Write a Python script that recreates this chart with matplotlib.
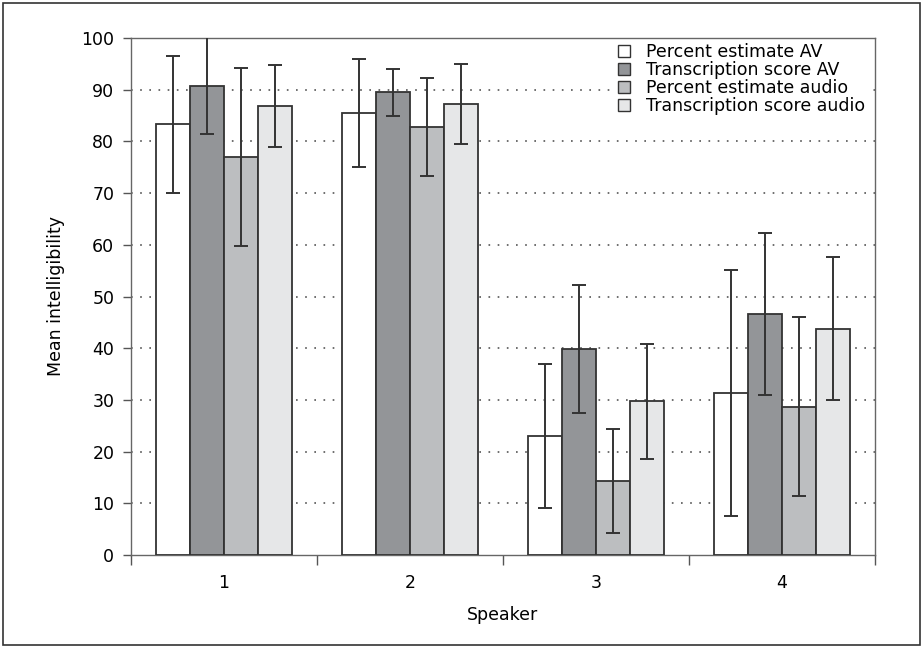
import matplotlib
matplotlib.use("Agg")
import matplotlib.pyplot as plt
from matplotlib.patches import Rectangle
from matplotlib.ticker import FixedLocator, NullFormatter
import numpy as np

speakers = ["1", "2", "3", "4"]
series_names = ["Percent estimate AV", "Transcription score AV",
                "Percent estimate audio", "Transcription score audio"]
pe_av = [83.3, 85.5, 23.0, 31.3]
ts_av = [90.8, 89.5, 39.9, 46.6]
pe_audio = [77.0, 82.8, 14.3, 28.7]
ts_audio = [86.9, 87.2, 29.7, 43.8]
err_pe_av = [13.2, 10.5, 14.0, 23.8]
err_ts_av = [9.4, 4.6, 12.4, 15.6]
err_pe_audio = [17.2, 9.5, 10.1, 17.3]
err_ts_audio = [7.9, 7.7, 11.2, 13.8]

values = [pe_av, ts_av, pe_audio, ts_audio]
errors = [err_pe_av, err_ts_av, err_pe_audio, err_ts_audio]
colors = ["#ffffff", "#939598", "#bcbec0", "#e6e7e8"]

plt.rcParams['font.family'] = ['DejaVu Sans']

fig = plt.figure(figsize=(9.24, 6.48), dpi=100)
ax = fig.add_axes([131/924, 1-555/648, (875-131)/924, (555-38)/648])

fig.patches.append(Rectangle((3/924, 3/648), 917/924, 642/648, transform=fig.transFigure,
                             fill=False, edgecolor="#333333", linewidth=1.2))

x = np.arange(1, len(speakers)+1)
w = 0.183
for i, (vals, errs, c, name) in enumerate(zip(values, errors, colors, series_names)):
    pos = x + (i - 1.5) * w
    ax.bar(pos, vals, width=w, color=c, edgecolor="#333333", linewidth=1.3,
           label=name, zorder=3)
    ax.errorbar(pos, vals, yerr=errs, fmt="none", ecolor="#333333",
                elinewidth=1.4, capsize=5, capthick=1.4, zorder=4)

ax.set_xlim(0.5, 4.5)
ax.set_ylim(0, 100)
ax.set_yticks(np.arange(0, 101, 10))
ax.set_xticks(x)
ax.set_xticklabels(speakers)
ax.xaxis.set_minor_locator(FixedLocator([0.5, 1.5, 2.5, 3.5, 4.5]))
ax.xaxis.set_minor_formatter(NullFormatter())
ax.tick_params(axis="x", which="major", length=0, labelsize=12.5, pad=14)
ax.tick_params(axis="x", which="minor", length=7, color="#555555", width=1)
ax.tick_params(axis="y", length=6, color="#555555", width=1, labelsize=12.5, pad=6)

for y in range(10, 100, 10):
    ax.axhline(y, color="#555555", linestyle=(0, (1, 4.5)), linewidth=1.2, zorder=1)

for s in ax.spines.values():
    s.set_color("#666666")
    s.set_linewidth(1.0)

ax.set_xlabel("Speaker", fontsize=12.5, labelpad=10)
ax.set_ylabel("Mean intelligibility", fontsize=12.5, labelpad=12)

leg = ax.legend(loc="upper right", bbox_to_anchor=(1.0 - 6/744, 1.0 - 1/517), frameon=True,
                facecolor="white", edgecolor="none", framealpha=1.0, fancybox=False,
                fontsize=12.5, handlelength=0.7, handleheight=0.7,
                handletextpad=0.9, labelspacing=0.0, borderaxespad=0.0,
                borderpad=0.25)
leg.set_zorder(2)
for h in leg.legend_handles:
    h.set_linewidth(1.0)

fig.savefig("out.png", dpi=100)
